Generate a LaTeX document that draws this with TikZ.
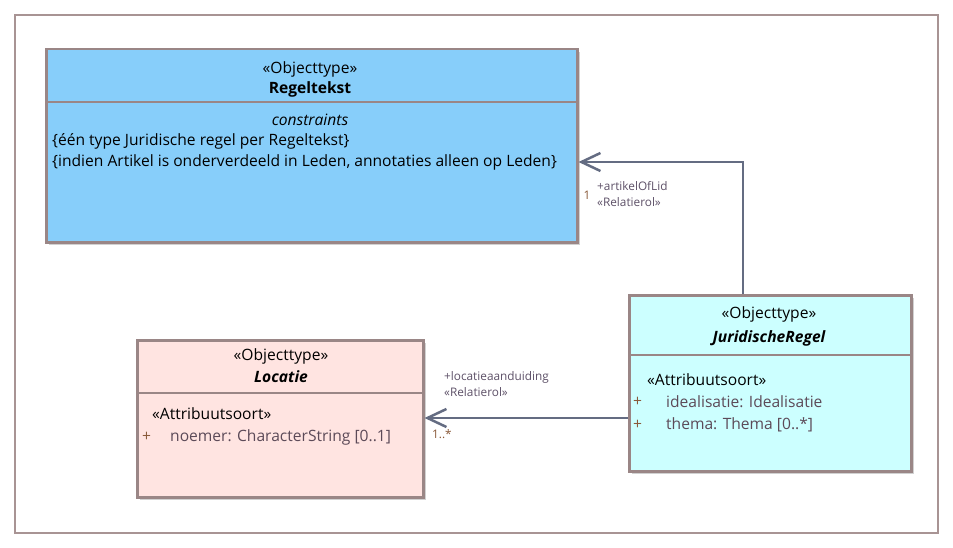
\documentclass[tikz,border=0pt]{standalone}
\usepackage{fontspec}
\setmainfont{Open Sans}
\usetikzlibrary{positioning,arrows.meta,shadows}
\definecolor{rtblue}{HTML}{87CEFA}
\definecolor{jrcyan}{HTML}{CCFFFF}
\definecolor{locpink}{HTML}{FFE4E1}
\definecolor{umlborder}{HTML}{9A8686}
\definecolor{framecol}{HTML}{A89494}
\definecolor{assoccol}{HTML}{646C82}
\definecolor{rolecol}{HTML}{5E5168}
\definecolor{multcol}{HTML}{8A5A3A}
\definecolor{attrcol}{HTML}{5C4A58}
\newcommand{\umlfont}{\fontsize{15.6}{18}\selectfont}
\newcommand{\rolefont}{\fontsize{11.8}{16}\selectfont}
\tikzset{cls/.style={draw=umlborder,line width=2.5pt,inner sep=0pt,anchor=north west,
		drop shadow={shadow xshift=3pt,shadow yshift=-3pt,fill=black!18,opacity=1}},
	 divider/.style={draw=umlborder,line width=1.8pt},
	 umltxt/.style={font=\umlfont,inner sep=0pt},
	 attr/.style={font=\umlfont,text=attrcol,inner sep=0pt,anchor=west},
	 role/.style={font=\rolefont,text=rolecol,inner sep=0pt,align=left,anchor=north west},
	 mult/.style={font=\rolefont,text=multcol,inner sep=0pt},
	 assoc/.style={draw=assoccol,line width=2.5pt,-{Straight Barb[length=19pt,width=18pt,line width=2.5pt]}}
	 }

\begin{document}
\begin{tikzpicture}[x=1pt,y=-1pt]
	\useasboundingbox[fill=white] (0,0) rectangle (953,548);
	\draw[framecol,line width=1.5pt] (15,15) rectangle (938,533);
	% classes
	\node[cls,fill=rtblue,minimum width=531pt,minimum height=193pt] (regeltekst) at (45,48) {};
	\node[cls,fill=jrcyan,minimum width=282pt,minimum height=176pt] (juridisch) at (628,294) {};
	\node[cls,fill=locpink,minimum width=286pt,minimum height=157pt] (locatie) at (136,339) {};
	\draw[divider] (regeltekst.west |- 0,102) -- (regeltekst.east |- 0,102);
	\draw[divider] (juridisch.west |- 0,355) -- (juridisch.east |- 0,355);
	\draw[divider] (locatie.west |- 0,393) -- (locatie.east |- 0,393);
	% Regeltekst
	\node[umltxt] (rtstereo) at (310,69) {«Objecttype»};
	\node[umltxt,font=\umlfont\bfseries] (rtname) at (310,89) {Regeltekst};
	\node[umltxt,font=\umlfont\itshape] (rtcons) at (310,120) {constraints};
	\node[umltxt,anchor=west] (rtcons1) at (52,141) {\{één type Juridische regel per Regeltekst\}};
	\node[umltxt,anchor=west] (rtcons2) at (52,162) {\{indien Artikel is onderverdeeld in Leden, annotaties alleen op Leden\}};
	% JuridischeRegel
	\node[umltxt] (jrstereo) at (769,314) {«Objecttype»};
	\node[umltxt,font=\umlfont\bfseries\itshape] (jrname) at (769,338) {JuridischeRegel};
	\node[umltxt,anchor=west] (jrattr) at (647,380) {«Attribuutsoort»};
	\node[attr,text=multcol] (jrplus1) at (633,402) {+};
	\node[attr] (jrideal) at (666,402) {idealisatie: Idealisatie};
	\node[attr,text=multcol] (jrplus2) at (633,425) {+};
	\node[attr] (jrthema) at (666,425) {thema: Thema [0..*]};
	% Locatie
	\node[umltxt] (locstereo) at (281,356) {«Objecttype»};
	\node[umltxt,font=\umlfont\bfseries\itshape] (locname) at (281,377) {Locatie};
	\node[umltxt,anchor=west] (locattr) at (152,414) {«Attribuutsoort»};
	\node[attr,text=multcol] (locplus) at (142,437) {+};
	\node[attr] (locnoemer) at (170,437) {noemer: CharacterString [0..1]};
	% associations
	\draw[assoc] (juridisch.north -| 743,0) |- (regeltekst.east |- 0,162);
	\node[mult] (rtmult) at (587,195) {1};
	\node[role] (rtrole) at (597,181) {+artikelOfLid\\«Relatierol»};
	\draw[assoc] (juridisch.west |- 0,418) -- (locatie.east |- 0,418);
	\node[role] (locrole) at (444,371) {+locatieaanduiding\\«Relatierol»};
	\node[mult,anchor=west] (locmult) at (432,434) {1..*};
\end{tikzpicture}
\end{document}
